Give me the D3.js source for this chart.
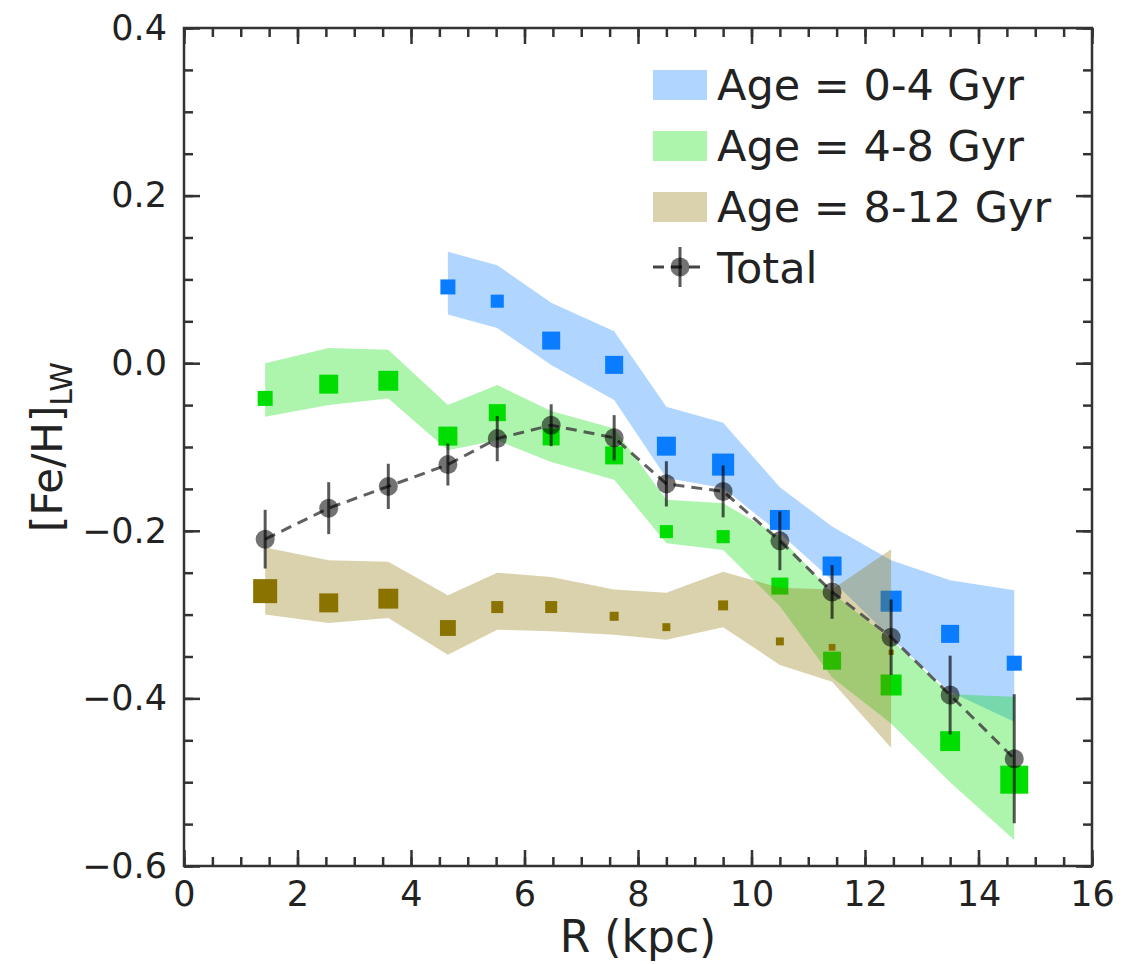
<!DOCTYPE html>
<html>
<head>
<meta charset="utf-8">
<script src="https://cdn.jsdelivr.net/npm/d3@7"></script>
<style>
  body { margin: 0; background: #fff; }
  text { font-family: "DejaVu Sans", sans-serif; fill: #222; }
</style>
</head>
<body>
<svg id="chart" width="1123" height="964"></svg>
<script>
//##### [Fe/H] radial profile by age #####

// radii of the bins (kpc)
var radiusAll = [1.43, 2.55, 3.6, 4.65, 5.52, 6.47, 7.58, 8.5, 9.5, 10.5, 11.42, 12.46, 13.5, 14.63];

// Age = 0-4 Gyr (starts at 4.65 kpc)
var youngR     = radiusAll.slice(3);
var youngFeH   = [0.091, 0.074, 0.027, -0.002, -0.099, -0.121, -0.187, -0.242, -0.284, -0.323, -0.358];
var youngUpper = [0.133, 0.117, 0.072, 0.038, -0.052, -0.071, -0.148, -0.195, -0.235, -0.259, -0.271];
var youngLower = [0.058, 0.042, -0.002, -0.044, -0.137, -0.149, -0.203, -0.259, -0.328, -0.392, -0.428];
var youngFrac  = [0.25, 0.19, 0.36, 0.36, 0.40, 0.54, 0.44, 0.40, 0.49, 0.36, 0.25];

// Age = 4-8 Gyr
var midR     = radiusAll;
var midFeH   = [-0.042, -0.025, -0.021, -0.087, -0.059, -0.088, -0.110, -0.201, -0.207, -0.266, -0.355, -0.384, -0.451, -0.497];
var midUpper = [0.0, 0.018, 0.016, -0.05, -0.026, -0.057, -0.078, -0.163, -0.167, -0.207, -0.274, -0.33, -0.395, -0.398];
var midLower = [-0.064, -0.05, -0.042, -0.104, -0.092, -0.118, -0.139, -0.215, -0.223, -0.29, -0.375, -0.43, -0.50, -0.569];
var midFrac  = [0.25, 0.40, 0.44, 0.40, 0.32, 0.32, 0.36, 0.19, 0.19, 0.32, 0.36, 0.49, 0.44, 0.87];

// Age = 8-12 Gyr (ends at 12.46 kpc)
var oldR     = radiusAll.slice(0, 12);
var oldFeH   = [-0.272, -0.286, -0.281, -0.316, -0.291, -0.291, -0.302, -0.315, -0.289, -0.332, -0.339, -0.345];
var oldUpper = [-0.22, -0.235, -0.237, -0.277, -0.25, -0.255, -0.27, -0.274, -0.249, -0.268, -0.27, -0.222];
var oldLower = [-0.30, -0.31, -0.304, -0.348, -0.318, -0.32, -0.324, -0.33, -0.315, -0.36, -0.38, -0.459];
var oldFrac  = [0.64, 0.40, 0.44, 0.28, 0.16, 0.16, 0.09, 0.07, 0.11, 0.07, 0.05, 0.03];

// Total
var totalFeH = [-0.210, -0.173, -0.147, -0.121, -0.090, -0.074, -0.089, -0.144, -0.153, -0.212, -0.273, -0.327, -0.396, -0.472];
var totalErr = [0.035, 0.031, 0.027, 0.025, 0.027, 0.025, 0.027, 0.027, 0.031, 0.035, 0.032, 0.045, 0.047, 0.077];

var legendLabels = ["Age = 0-4 Gyr", "Age = 4-8 Gyr", "Age = 8-12 Gyr", "Total"];

var groups = [
  { label: legendLabels[0], r: youngR, feh: youngFeH, up: youngUpper, lo: youngLower, frac: youngFrac, color: "#0a7cff" },
  { label: legendLabels[1], r: midR, feh: midFeH, up: midUpper, lo: midLower, frac: midFrac, color: "#00dd00" },
  { label: legendLabels[2], r: oldR, feh: oldFeH, up: oldUpper, lo: oldLower, frac: oldFrac, color: "#8b7300" }
];

var svg = d3.select("#chart");
var mLeft = 184, mRight = 1092, mTop = 28, mBottom = 866;

var x = d3.scaleLinear().domain([0, 16]).range([mLeft, mRight]);
var y = d3.scaleLinear().domain([-0.6, 0.4]).range([mBottom, mTop]);
var side = d3.scaleSqrt().domain([0, 1]).range([0, 30]);

var bandAlpha = 0.32;

//draw bands and squares, one age group after another
groups.forEach(function(g) {
  var pts = g.r.map(function(r, i) {
    return { r: r, v: g.feh[i], up: g.up[i], lo: g.lo[i], f: g.frac[i] };
  });

  var area = d3.area()
    .x(function(d) { return x(d.r); })
    .y0(function(d) { return y(d.lo); })
    .y1(function(d) { return y(d.up); });

  svg.append("path")
    .datum(pts)
    .attr("d", area)
    .attr("fill", g.color)
    .attr("fill-opacity", bandAlpha);

  svg.append("g")
    .selectAll("rect")
    .data(pts)
    .enter()
    .append("rect")
    .attr("x", function(d) { return x(d.r) - side(d.f) / 2; })
    .attr("y", function(d) { return y(d.v) - side(d.f) / 2; })
    .attr("width", function(d) { return side(d.f); })
    .attr("height", function(d) { return side(d.f); })
    .attr("fill", g.color);
});

//total profile
var totalPts = radiusAll.map(function(r, i) {
  return { r: r, v: totalFeH[i], e: totalErr[i] };
});

svg.append("path")
  .datum(totalPts)
  .attr("d", d3.line().x(function(d) { return x(d.r); }).y(function(d) { return y(d.v); }))
  .attr("fill", "none")
  .attr("stroke", "#444")
  .attr("stroke-opacity", 0.85)
  .attr("stroke-width", 3)
  .attr("stroke-dasharray", "11,7");

svg.append("g")
  .selectAll("line")
  .data(totalPts)
  .enter()
  .append("line")
  .attr("x1", function(d) { return x(d.r); })
  .attr("x2", function(d) { return x(d.r); })
  .attr("y1", function(d) { return y(d.v - d.e); })
  .attr("y2", function(d) { return y(d.v + d.e); })
  .attr("stroke", "#000")
  .attr("stroke-opacity", 0.65)
  .attr("stroke-width", 3);

svg.append("g")
  .selectAll("circle")
  .data(totalPts)
  .enter()
  .append("circle")
  .attr("cx", function(d) { return x(d.r); })
  .attr("cy", function(d) { return y(d.v); })
  .attr("r", 9.5)
  .attr("fill", "#000")
  .attr("fill-opacity", 0.55);

//axes, ticks point inward on all four sides
var fmtY = d3.format(".1f");
var axisStyle = function(sel) {
  sel.select(".domain").remove();
  sel.selectAll("line").attr("stroke", "#333").attr("stroke-width", 2.5);
  sel.selectAll("text").style("font-size", "35px").attr("fill", "#222");
};

var xMajor = d3.range(0, 17, 2);
var xMinor = d3.range(0, 16.01, 0.5);
var yMajor = d3.range(-0.6, 0.41, 0.2);
var yMinor = d3.range(-0.6, 0.401, 0.05);

svg.append("g").attr("transform", "translate(0," + mBottom + ")")
  .call(d3.axisBottom(x).tickValues(xMinor).tickSize(-9).tickFormat(""))
  .call(axisStyle);
svg.append("g").attr("transform", "translate(0," + mBottom + ")")
  .call(d3.axisBottom(x).tickValues(xMajor).tickSize(-16).tickPadding(15).tickFormat(d3.format("d")))
  .call(axisStyle);
svg.append("g").attr("transform", "translate(0," + mTop + ")")
  .call(d3.axisTop(x).tickValues(xMinor).tickSize(-9).tickFormat(""))
  .call(axisStyle);
svg.append("g").attr("transform", "translate(0," + mTop + ")")
  .call(d3.axisTop(x).tickValues(xMajor).tickSize(-16).tickFormat(""))
  .call(axisStyle);

svg.append("g").attr("transform", "translate(" + mLeft + ",0)")
  .call(d3.axisLeft(y).tickValues(yMinor).tickSize(-9).tickFormat(""))
  .call(axisStyle);
svg.append("g").attr("transform", "translate(" + mLeft + ",0)")
  .call(d3.axisLeft(y).tickValues(yMajor).tickSize(-16).tickPadding(17).tickFormat(fmtY))
  .call(axisStyle);
svg.append("g").attr("transform", "translate(" + mRight + ",0)")
  .call(d3.axisRight(y).tickValues(yMinor).tickSize(-9).tickFormat(""))
  .call(axisStyle);
svg.append("g").attr("transform", "translate(" + mRight + ",0)")
  .call(d3.axisRight(y).tickValues(yMajor).tickSize(-16).tickFormat(""))
  .call(axisStyle);

svg.append("rect")
  .attr("x", mLeft).attr("y", mTop)
  .attr("width", mRight - mLeft).attr("height", mBottom - mTop)
  .attr("fill", "none")
  .attr("stroke", "#333")
  .attr("stroke-width", 2.5);

//axis labels
svg.append("text")
  .attr("x", (mLeft + mRight) / 2)
  .attr("y", 952)
  .attr("text-anchor", "middle")
  .style("font-size", "44px")
  .text("R (kpc)");

var ylab = svg.append("text")
  .attr("transform", "translate(62,447) rotate(-90)")
  .attr("text-anchor", "middle")
  .style("font-size", "42px");
ylab.append("tspan").text("[Fe/H]");
ylab.append("tspan").attr("dy", 10).style("font-size", "30px").text("LW");

//legend
var legend = svg.append("g")
  .selectAll("g")
  .data(groups)
  .enter()
  .append("g")
  .attr("transform", function(d, i) { return "translate(653," + (70 + i * 61) + ")"; });
legend.append("rect")
  .attr("width", 54)
  .attr("height", 30)
  .attr("fill", function(d) { return d.color; })
  .attr("fill-opacity", bandAlpha);
legend.append("text")
  .attr("x", 64)
  .attr("y", 30)
  .style("font-size", "43px")
  .text(function(d) { return d.label; });

var tot = svg.append("g").attr("transform", "translate(653," + (70 + 3 * 61) + ")");
tot.append("line")
  .attr("x1", 0).attr("x2", 54).attr("y1", 14).attr("y2", 14)
  .attr("stroke", "#444").attr("stroke-width", 3).attr("stroke-dasharray", "11,7");
tot.append("line")
  .attr("x1", 27).attr("x2", 27).attr("y1", -6).attr("y2", 34)
  .attr("stroke", "#000").attr("stroke-opacity", 0.65).attr("stroke-width", 3);
tot.append("circle")
  .attr("cx", 27).attr("cy", 14).attr("r", 9.5)
  .attr("fill", "#000").attr("fill-opacity", 0.55);
tot.append("text")
  .attr("x", 64)
  .attr("y", 30)
  .style("font-size", "43px")
  .text(legendLabels[3]);
</script>
</body>
</html>
